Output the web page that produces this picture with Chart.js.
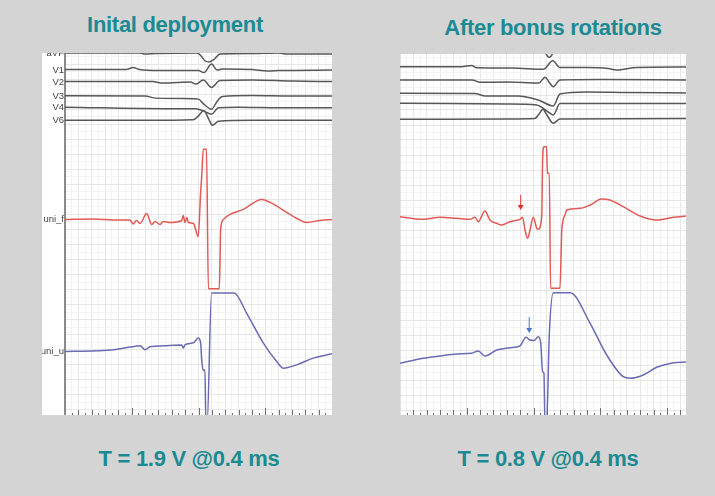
<!DOCTYPE html>
<html>
<head>
<meta charset="utf-8">
<script src="https://cdn.jsdelivr.net/npm/chart.js@4"></script>
<style>
  body { margin: 0; width: 715px; height: 496px; background: #d4d4d4; position: relative; overflow: hidden; font-family: "Liberation Sans", Arial, sans-serif; }
  .title { position: absolute; color: #1b8a92; font-weight: bold; font-size: 22px; text-align: center; width: 300px; letter-spacing: -0.3px; }
  .panel { position: absolute; background: #fff; overflow: hidden; }
</style>
</head>
<body>
<div class="title" style="left:25px; top:12px;">Inital deployment</div>
<div class="title" style="left:403px; top:15px;">After bonus rotations</div>
<div class="panel" style="left:42px; top:53px; width:290px; height:362px;"><canvas id="left"></canvas></div>
<div class="panel" style="left:400px; top:54px; width:286px; height:361px;"><canvas id="right"></canvas></div>
<div class="title" style="left:39px; top:446px;">T = 1.9 V @0.4 ms</div>
<div class="title" style="left:398px; top:446px;">T = 0.8 V @0.4 ms</div>
<script>
// lead names and where each sits on the left panel's vertical scale
const leadNames = ["aVF", "V1", "V2", "V3", "V4", "V6", "uni_f", "uni_u"];
const leftBaselines = [361, 344, 332, 318, 307, 294, 195, 63];

const leftTimeMax = 1000;
const rightTimeMax = 1071;
const yMax = 361;

// ---- initial deployment (left) ----
const leftAvfT = [0, 280, 300, 340, 495, 510, 525, 540, 560, 580, 700, 800, 830, 1000];
const leftAvfV = [361, 361, 360, 360.5, 361, 358, 353, 352, 355, 360, 360.5, 361, 360, 360];
const leftV1T = [0, 230, 255, 280, 350, 500, 520, 549, 570, 590, 700, 760, 800, 1000];
const leftV1V = [344.5, 344.5, 346.5, 344.5, 343.5, 343.5, 341.5, 350, 344, 345, 344.5, 343, 343.5, 344];
const leftV2T = [0, 330, 360, 420, 470, 490, 518, 549, 580, 700, 850, 1000];
const leftV2V = [332.7, 332.5, 331, 331.5, 332, 330, 334, 326.7, 333.5, 334, 333, 332.5];
const leftV3T = [0, 300, 340, 480, 500, 520, 549, 570, 590, 700, 850, 1000];
const leftV3V = [318.3, 318, 316, 315.5, 315, 310, 305, 313, 317.5, 318.5, 318, 318];
const leftV4T = [0, 400, 490, 520, 549, 575, 650, 800, 1000];
const leftV4V = [307, 305.5, 305.5, 303, 300, 306.5, 307, 306.5, 306.5];
const leftV6T = [0, 300, 480, 495, 520, 540, 552, 575, 700, 1000];
const leftV6V = [294, 294, 294.5, 297, 303.5, 294, 289, 293, 294, 294];
const leftUniFT = [0, 100, 200, 243, 255, 268, 281, 306, 325, 337, 356, 368, 393, 437, 443, 449, 456, 462, 481, 499, 508, 512, 518, 530, 537, 543, 578, 583, 593, 618, 668, 737, 768, 843, 868, 905, 955, 1000];
const leftUniFV = [195, 195.5, 194.5, 194.5, 190.5, 194, 191, 201, 190, 193, 190, 193, 192, 194, 199, 192, 197, 192, 191, 178, 222, 238, 265, 265, 126, 126, 126, 185, 195, 200, 205, 215, 212, 200, 196, 192, 194, 195];
const leftUniUT = [0, 119, 181, 243, 281, 300, 318, 368, 437, 443, 449, 481, 499, 508, 512, 518, 524, 528, 532, 549, 633, 680, 743, 793, 818, 868, 930, 1000];
const leftUniUV = [63.3, 64, 65, 67.7, 69, 65, 68, 69, 69.7, 66.7, 70, 72, 76.7, 72, 55, 44.3, 45, -10, -10, 121.7, 121.7, 101.7, 71.7, 53.3, 46.7, 50, 56.7, 61];

// ---- after bonus rotations (right) ----
const rightAvfT = [0, 400, 540, 552, 559, 566, 580, 1071];
const rightAvfV = [366, 366, 364, 359, 357.7, 359, 365, 366];
const rightV1T = [0, 230, 268, 287, 420, 537, 572, 599, 700, 780, 811, 886, 1071];
const rightV1V = [348.3, 348.3, 349.5, 347.3, 347, 345.7, 354.3, 347.5, 347.5, 346.5, 345, 347.5, 348];
const rightV2T = [0, 270, 300, 400, 520, 543, 562, 574, 599, 750, 1071];
const rightV2V = [335, 335, 332.7, 333, 332, 337.7, 331.5, 328.3, 335, 335.5, 335];
const rightV3T = [0, 280, 320, 440, 518, 574, 599, 700, 850, 1071];
const rightV3V = [321.7, 321.5, 319, 319, 315, 309, 321, 323, 322.5, 322];
const rightV4T = [0, 400, 512, 555, 574, 599, 1071];
const rightV4V = [311.7, 311, 310, 303, 300, 311.5, 311.5];
const rightV6T = [0, 400, 505, 518, 535, 550, 574, 599, 1071];
const rightV6V = [295.7, 296, 296.5, 300, 305.7, 300, 291.7, 296, 296.5];
const rightUniFT = [0, 87, 150, 212, 262, 281, 293, 318, 337, 362, 381, 412, 449, 459, 468, 478, 487, 499, 512, 518, 531, 534, 539, 549, 552, 559, 564, 599, 606, 618, 624, 674, 712, 755, 786, 836, 899, 961, 1024, 1071];
const rightUniFV = [198.3, 195.7, 197.7, 196.7, 195.7, 197.7, 193.3, 204, 195, 191.7, 190, 193.3, 195.7, 197.7, 185, 176.7, 185, 197.7, 186.7, 185.7, 200, 255, 268.3, 268.3, 241.7, 241.7, 126.7, 126.7, 185, 200, 205, 206.7, 210, 216, 215, 208.3, 199, 195, 197.7, 199];
const rightUniUT = [0, 87, 150, 212, 268, 293, 318, 362, 412, 449, 472, 487, 502, 518, 527, 534, 539, 543, 549, 559, 574, 637, 712, 774, 836, 861, 911, 961, 1024, 1071];
const rightUniUV = [51.7, 56.7, 59, 61, 61.7, 64, 59, 65, 67.3, 69, 77.7, 75, 74.5, 78.3, 72, 43.3, 41.7, -10, -10, 80, 122.3, 122.3, 91.7, 60, 38.3, 36.7, 40, 47.7, 52.3, 53];

// arrows marking the local activation after rotation
const rightArrows = [
  { t: 452, from: 220, to: 205, color: "#e8302a" },
  { t: 484, from: 98, to: 82, color: "#4a78c8" },
];

const ecgColor = "#575757";
const redColor = "#e25a55";
const blueColor = "#6a6bb2";
const gridStep = 25;

function series(t, v) {
  return t.map((x, i) => ({ x: x, y: v[i] }));
}

function trace(t, v, color, width) {
  return {
    data: series(t, v),
    borderColor: color,
    borderWidth: width,
    pointRadius: 0,
    cubicInterpolationMode: "monotone",
    clip: 0,
  };
}

const arrowPlugin = {
  id: "arrows",
  afterDatasetsDraw(chart, args, opts) {
    const { ctx, scales } = chart;
    (opts.marks || []).forEach((m) => {
      const px = scales.x.getPixelForValue(m.t);
      const top = scales.y.getPixelForValue(m.from);
      const tip = scales.y.getPixelForValue(m.to);
      ctx.save();
      ctx.strokeStyle = m.color;
      ctx.fillStyle = m.color;
      ctx.lineWidth = 1;
      ctx.beginPath();
      ctx.moveTo(px, top);
      ctx.lineTo(px, tip - 4);
      ctx.stroke();
      ctx.beginPath();
      ctx.moveTo(px - 3, tip - 5);
      ctx.lineTo(px + 3, tip - 5);
      ctx.lineTo(px, tip);
      ctx.closePath();
      ctx.fill();
      ctx.restore();
    });
  },
};

// little time marks standing up from the bottom edge
const timeTicks = {
  id: "timeTicks",
  afterDraw(chart) {
    const { ctx, chartArea } = chart;
    const x = chart.scales.x;
    ctx.save();
    ctx.strokeStyle = "#6f6f6f";
    ctx.lineWidth = 1;
    for (let t = gridStep; t < x.max; t += gridStep) {
      const i = Math.round(t / gridStep);
      const len = i % 10 === 0 ? 7 : i % 2 === 0 ? 5 : 2;
      const px = Math.round(x.getPixelForValue(t)) + 0.5;
      ctx.beginPath();
      ctx.moveTo(px, chartArea.bottom);
      ctx.lineTo(px, chartArea.bottom - len);
      ctx.stroke();
    }
    ctx.restore();
  },
};

function makePanel(id, datasets, timeMax, showLabels, arrows) {
  const ctx = document.getElementById(id).getContext("2d");
  return new Chart(ctx, {
    type: "line",
    data: { datasets: datasets },
    plugins: [arrowPlugin, timeTicks],
    options: {
      responsive: true,
      maintainAspectRatio: false,
      animation: false,
      layout: { padding: 0 },
      plugins: {
        legend: { display: false },
        tooltip: { enabled: false },
        arrows: { marks: arrows },
      },
      scales: {
        x: {
          type: "linear",
          min: 0,
          max: timeMax,
          afterBuildTicks: (scale) => {
            const ticks = [];
            for (let t = 0; t <= timeMax; t += gridStep) ticks.push({ value: t });
            scale.ticks = ticks;
          },
          ticks: { display: false, autoSkip: false },
          grid: {
            drawTicks: false,
            color: (c) => (c.tick.value % (gridStep * 2) === 0 ? "#e6e6e6" : "#f3f3f3"),
          },
          border: { display: true, color: "#9a9a9a", width: 1 },
        },
        y: {
          min: 0,
          max: yMax,
          position: "left",
          display: true,
          afterBuildTicks: (scale) => {
            scale.ticks = leftBaselines.map((v) => ({ value: v }));
          },
          afterFit: (scale) => {
            scale.width = showLabels ? 23 : 0;
            scale.paddingTop = 0;
            scale.paddingBottom = 0;
          },
          ticks: {
            display: showLabels,
            autoSkip: false,
            padding: 1,
            color: "#444",
            font: { family: "Liberation Sans", size: 9.5 },
            callback: (v) => leadNames[leftBaselines.indexOf(v)],
          },
          grid: { display: false, drawTicks: false },
          border: { display: true, color: showLabels ? "#8a8a8a" : "#e0e0e0", width: showLabels ? 2 : 1 },
        },
        grid: {
          min: 0,
          max: yMax,
          position: "right",
          afterBuildTicks: (scale) => {
            const ticks = [];
            for (let v = 5; v <= yMax; v += 7.5) ticks.push({ value: v });
            scale.ticks = ticks;
          },
          afterFit: (scale) => {
            scale.width = 0;
          },
          ticks: { display: false, autoSkip: false },
          grid: {
            drawTicks: false,
            color: (c) => (c.index % 2 === 0 ? "#e6e6e6" : "#f3f3f3"),
          },
          border: { display: false },
        },
      },
    },
  });
}

makePanel("left", [
  trace(leftAvfT, leftAvfV, ecgColor, 1.5),
  trace(leftV1T, leftV1V, ecgColor, 1.5),
  trace(leftV2T, leftV2V, ecgColor, 1.5),
  trace(leftV3T, leftV3V, ecgColor, 1.5),
  trace(leftV4T, leftV4V, ecgColor, 1.5),
  trace(leftV6T, leftV6V, ecgColor, 1.5),
  trace(leftUniFT, leftUniFV, redColor, 1.5),
  trace(leftUniUT, leftUniUV, blueColor, 1.5),
], leftTimeMax, true, []);

makePanel("right", [
  trace(rightAvfT, rightAvfV, ecgColor, 1.5),
  trace(rightV1T, rightV1V, ecgColor, 1.5),
  trace(rightV2T, rightV2V, ecgColor, 1.5),
  trace(rightV3T, rightV3V, ecgColor, 1.5),
  trace(rightV4T, rightV4V, ecgColor, 1.5),
  trace(rightV6T, rightV6V, ecgColor, 1.5),
  trace(rightUniFT, rightUniFV, redColor, 1.5),
  trace(rightUniUT, rightUniUV, blueColor, 1.5),
], rightTimeMax, false, rightArrows);
</script>
</body>
</html>
